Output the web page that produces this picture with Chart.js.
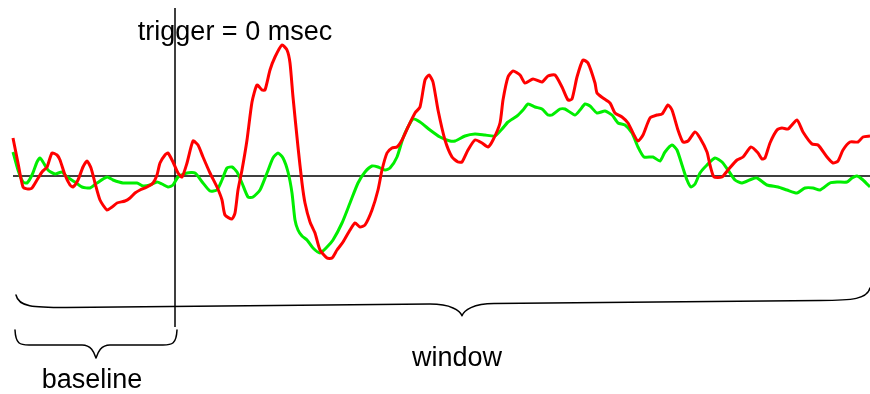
<!DOCTYPE html>
<html>
<head>
<meta charset="utf-8">
<style>
  html, body { margin: 0; padding: 0; background: #ffffff; }
  #wrap { width: 870px; height: 394px; }
</style>
<script src="https://cdn.jsdelivr.net/npm/chart.js@4/dist/chart.umd.min.js"></script>
</head>
<body>
<div id="wrap"><canvas id="erp" width="870" height="394"></canvas></div>
<script>
// Time (msec, trigger at 0) and amplitude samples for the two averaged traces
const redTime = [-162,-157,-152,-147,-143,-138,-133,-128,-123,-118,-115,-110,-105,-102,-97,-92,-88,-84,-80,-75,-68,-63,-58,-50,-45,-40,-35,-28,-22,-18,-15,-10,-7,-2,3,7,12,18,23,28,35,42,47,50,57,60,63,67,72,77,82,87,90,95,100,107,112,115,118,123,127,130,135,140,145,152,157,162,168,175,180,185,190,197,203,207,212,217,222,227,233,240,245,250,254,258,263,270,277,283,287,293,300,307,313,318,325,328,333,338,345,350,358,367,373,380,387,393,397,402,408,413,420,422,428,435,440,447,453,458,463,468,475,482,487,493,497,503,508,513,520,525,532,535,539,547,553,562,568,576,583,587,590,595,602,607,613,622,628,637,643,652,658,663,668,675,683,688,695];
const redValue = [38,13,-11,-13,-12,-4,4,9,23,21,16,1,-9,-11,-4,9,15,8,-7,-24,-34,-31,-27,-25,-22,-17,-14,-11,-7,1,13,21,23,14,3,-1,13,35,31,19,3,-11,-24,-39,-43,-37,-14,6,36,74,91,86,86,106,119,131,126,113,79,29,-7,-27,-46,-57,-74,-82,-82,-74,-66,-54,-47,-51,-49,-34,-14,6,23,28,29,36,49,63,69,96,101,94,66,36,19,14,14,26,36,33,29,36,53,76,99,105,101,93,97,94,100,101,89,76,77,99,116,113,93,83,78,73,63,59,53,43,35,41,58,61,62,71,66,46,34,35,44,38,24,11,-1,-1,6,16,19,29,23,17,18,33,46,48,47,56,44,32,31,19,13,15,26,34,34,39,40];

const greenTime = [-162,-157,-152,-148,-143,-138,-135,-132,-127,-120,-113,-108,-100,-93,-85,-78,-68,-62,-52,-38,-32,-25,-18,-13,-7,-2,3,12,20,28,35,42,47,52,57,62,67,73,78,85,92,98,103,108,113,117,120,123,127,132,138,145,152,158,167,175,183,190,197,203,210,215,222,228,233,238,245,255,265,275,280,290,300,310,320,327,333,342,348,353,360,367,373,377,385,390,400,405,410,415,422,430,437,443,450,457,463,469,478,485,490,497,502,507,512,516,520,525,532,540,547,553,560,567,577,582,592,603,612,622,630,638,645,655,662,672,677,682,688,695];
const greenValue = [24,6,-6,-7,1,14,18,14,6,2,4,-1,-6,-11,-12,-7,-1,-4,-7,-7,-10,-9,-6,-8,-11,-9,-1,3,3,-7,-15,-14,-4,8,9,4,-7,-21,-21,-14,3,18,23,18,4,-17,-44,-54,-60,-64,-72,-77,-71,-64,-47,-27,-7,4,10,9,6,8,19,38,49,57,54,46,39,35,35,40,42,41,40,47,54,60,66,72,69,67,61,61,67,67,61,66,72,70,63,65,61,53,51,43,29,19,19,15,24,31,26,11,-4,-11,-8,3,11,18,14,6,-4,-7,-3,-2,-9,-11,-14,-17,-12,-12,-14,-7,-6,-6,-2,0,-4,-11];

// Reference lines: zero level across the window, trigger marker at 0 msec
const zeroLineTime = [-162, 695];
const zeroLineValue = [0, 0];
const triggerTime = [0, 0];
const triggerValue = [168, -151];

// Curly-brace annotations: span in msec and label
const braceSpans = [
  { from: -160, to: 2, label: 'baseline' },
  { from: -162, to: 695, label: 'window' }
];
const triggerLabel = 'trigger = 0 msec';

const toPoints = (xs, ys) => xs.map((x, i) => ({ x: x, y: ys[i] }));

const annotationPlugin = {
  id: 'erpAnnotations',
  afterDatasetsDraw(chart) {
    const ctx = chart.ctx;
    const xs = chart.scales.x;
    const ys = chart.scales.y;
    const px = v => xs.getPixelForValue(v);
    const py = v => ys.getPixelForValue(v);

    ctx.save();
    ctx.strokeStyle = '#000000';
    ctx.lineWidth = 1.5;
    ctx.lineCap = 'round';
    ctx.lineJoin = 'round';

    // draws a downward-pointing brace between xl and xr
    function brace(xl, xr, xt, yEndL, yEndR, yBodyL, yBodyR, tipDepth, curl, tipW) {
      const body = x => yBodyL + (yBodyR - yBodyL) * (x - xl) / (xr - xl);
      const yt = body(xt) + tipDepth;
      ctx.beginPath();
      ctx.moveTo(xl, yEndL);
      ctx.bezierCurveTo(xl + curl * 0.05, body(xl) - 1, xl + curl * 0.35, body(xl + curl), xl + curl, body(xl + curl));
      ctx.lineTo(xt - tipW, body(xt - tipW));
      ctx.bezierCurveTo(xt - tipW * 0.35, body(xt - tipW), xt - 2, yt - tipDepth * 0.45, xt, yt);
      ctx.bezierCurveTo(xt + 2, yt - tipDepth * 0.45, xt + tipW * 0.35, body(xt + tipW), xt + tipW, body(xt + tipW));
      ctx.lineTo(xr - curl, body(xr - curl));
      ctx.bezierCurveTo(xr - curl * 0.35, body(xr - curl), xr - curl * 0.05, body(xr) - 1, xr, yEndR);
      ctx.stroke();
    }

    const small = braceSpans[0];
    const big = braceSpans[1];
    const sx0 = px(small.from), sx1 = px(small.to);
    const bx0 = px(big.from), bx1 = px(big.to);

    brace(sx0, sx1, (sx0 + sx1) / 2, py(-154), py(-154), py(-169), py(-169), 13, 14, 14);
    brace(bx0 + 3, bx1, px(287), py(-119), py(-112), py(-132), py(-124), 12, 50, 32);

    ctx.fillStyle = '#000000';
    ctx.font = '27px "Liberation Sans", Arial, sans-serif';
    ctx.textAlign = 'center';
    ctx.textBaseline = 'alphabetic';
    ctx.fillText(triggerLabel, px(60), py(136));
    ctx.fillText(big.label, px(282), py(-190));
    ctx.fillText(small.label, px(-83), py(-212));
    ctx.restore();
  }
};

new Chart(document.getElementById('erp'), {
  type: 'line',
  data: {
    datasets: [
      {
        label: 'red',
        data: toPoints(redTime, redValue),
        borderColor: '#ff0000',
        borderWidth: 3,
        tension: 0.2,
        order: 1
      },
      {
        label: 'green',
        data: toPoints(greenTime, greenValue),
        borderColor: '#00ee00',
        borderWidth: 3,
        tension: 0.2,
        order: 2
      },
      {
        label: 'zero',
        data: toPoints(zeroLineTime, zeroLineValue),
        borderColor: '#000000',
        borderWidth: 1.5,
        tension: 0,
        order: 3
      },
      {
        label: 'trigger',
        data: toPoints(triggerTime, triggerValue),
        borderColor: '#000000',
        borderWidth: 1.5,
        tension: 0,
        order: 4
      }
    ]
  },
  options: {
    responsive: false,
    animation: false,
    layout: { padding: 0 },
    elements: { point: { radius: 0, hoverRadius: 0 } },
    plugins: { legend: { display: false }, tooltip: { enabled: false } },
    scales: {
      x: { type: 'linear', min: -175, max: 695, display: false },
      y: { type: 'linear', min: -218, max: 176, display: false }
    }
  },
  plugins: [annotationPlugin]
});
</script>
</body>
</html>
